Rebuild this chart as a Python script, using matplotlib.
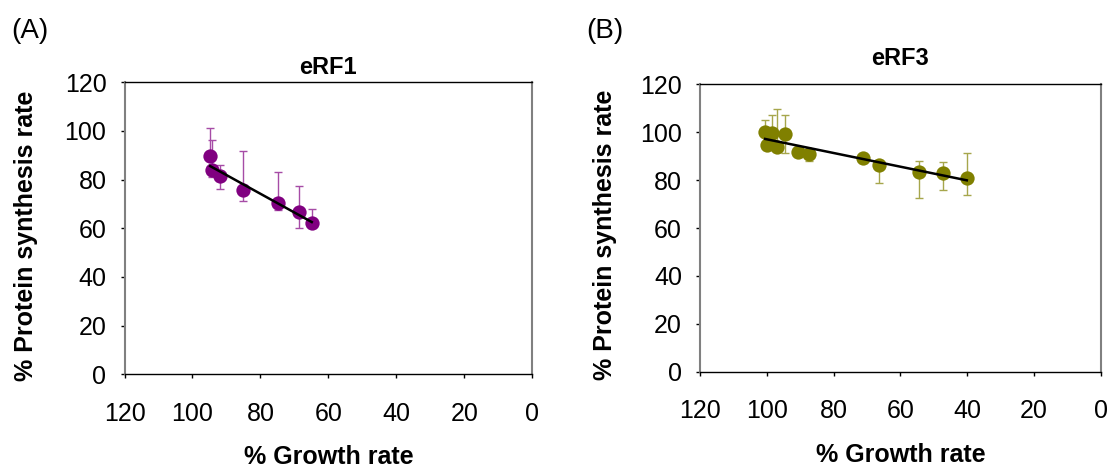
import numpy as np
import matplotlib
matplotlib.use("Agg")
import matplotlib.pyplot as plt

plt.rcParams['font.family'] = ['Liberation Sans', 'DejaVu Sans']

# eRF1 depletion series
erf1_growth = [94.8, 94.3, 91.9, 85.0, 74.9, 68.6, 64.9]
erf1_synth = [89.8, 84.0, 81.5, 75.7, 70.3, 66.8, 62.3]
erf1_err_lo = [1.0, 3.0, 5.3, 4.4, 2.8, 6.8, 1.0]
erf1_err_hi = [11.3, 12.3, 4.5, 16.2, 12.8, 10.7, 5.6]

# eRF3 depletion series
erf3_growth = [100.5, 98.5, 94.5, 100.0, 97.0, 90.6, 87.4, 71.1, 66.4, 54.4, 47.1, 40.1]
erf3_synth = [100.0, 99.5, 99.1, 94.7, 94.0, 91.9, 90.8, 89.1, 86.3, 83.3, 82.8, 80.8]
erf3_err_lo = [1.0, 1.0, 7.9, 1.0, 1.0, 1.0, 2.8, 1.0, 7.6, 10.9, 6.9, 7.0]
erf3_err_hi = [5.1, 7.5, 8.2, 1.0, 15.6, 1.0, 1.0, 1.0, 1.0, 4.7, 4.6, 10.6]

ticks = [0, 20, 40, 60, 80, 100, 120]

fig = plt.figure(figsize=(11.09, 4.69), dpi=100)
W, H = 1109, 469


def px_axes(x0, y0, x1, y1):
    return fig.add_axes([x0 / W, 1 - y1 / H, (x1 - x0) / W, (y1 - y0) / H])


def panel(ax, gx, sy, lo, hi, color, ecolor, title, title_y, xlab_y, ylab_x, ylab_y):
    ax.errorbar(gx, sy, yerr=[lo, hi], fmt='none', ecolor=ecolor,
                elinewidth=1.0, capsize=3.0, capthick=1.0, zorder=2)
    ax.plot(gx, sy, 'o', color=color, markersize=10.3, markeredgewidth=0, zorder=3)
    slope, icpt = np.polyfit(gx, sy, 1)
    xs = np.array([max(gx), min(gx)])
    ax.plot(xs, slope * xs + icpt, color='black', linewidth=1.8, zorder=4)

    ax.set_xlim(120, 0)
    ax.set_ylim(0, 120)
    ax.set_xticks(ticks)
    ax.set_yticks(ticks)
    ax.tick_params(axis='both', direction='out', length=3, width=1,
                   labelsize=18, colors='black')
    ax.tick_params(axis='x', pad=17)
    ax.tick_params(axis='y', pad=10)
    for side in ('left', 'right'):
        ax.spines[side].set_color('#808080')
        ax.spines[side].set_linewidth(1.5)
    for side in ('top', 'bottom'):
        ax.spines[side].set_color('black')
        ax.spines[side].set_linewidth(1.0)

    ax.text(0.5, title_y, title, transform=ax.transAxes, ha='center',
            va='center', fontsize=17, fontweight='bold')
    ax.set_xlabel('% Growth rate', fontsize=18, fontweight='bold')
    ax.set_ylabel('% Protein synthesis rate', fontsize=18, fontweight='bold')
    ax.xaxis.set_label_coords(0.5, xlab_y)
    ax.yaxis.set_label_coords(ylab_x, ylab_y)


ax1 = px_axes(124.5, 82.3, 532.3, 374.3)
panel(ax1, erf1_growth, erf1_synth, erf1_err_lo, erf1_err_hi,
      '#800080', '#a64ca6', 'eRF1', 1.05, -0.242, -0.212, 0.474)

ax2 = px_axes(700, 84.3, 1100.7, 371.7)
panel(ax2, erf3_growth, erf3_synth, erf3_err_lo, erf3_err_hi,
      '#808000', '#a6a64c', 'eRF3', 1.09, -0.248, -0.207, 0.477)

fig.text(30 / W, 1 - 31 / H, '(A)', fontsize=20, ha='center', va='center')
fig.text(605 / W, 1 - 31 / H, '(B)', fontsize=20, ha='center', va='center')

fig.savefig('out.png', dpi=100)
